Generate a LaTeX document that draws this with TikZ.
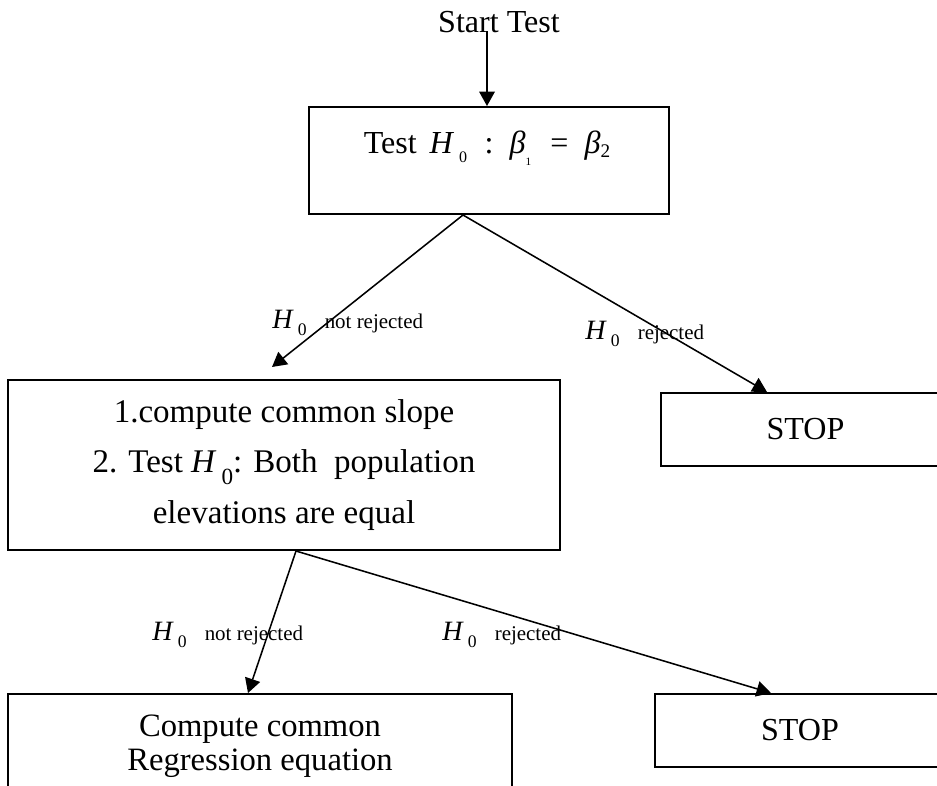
\documentclass[tikz,border=0pt]{standalone}
\usepackage{fontspec}
\setmainfont{Liberation Serif}
\usepackage{graphicx}
\usetikzlibrary{positioning,calc,arrows.meta}

\newcommand{\Hnull}[2]{\textit{H}\kern0.15em\raisebox{#1}{\scalebox{#2}{0}}}
\newcommand{\mainsize}{\fontsize{22.8pt}{28pt}\selectfont}
\newcommand{\slopesize}{\fontsize{23.5pt}{35.6pt}\selectfont}
\newcommand{\commonsize}{\fontsize{23.2pt}{24.2pt}\selectfont}
\newcommand{\labsize}{\fontsize{19.9pt}{24pt}\selectfont}
\newcommand{\tinysize}{\fontsize{14.9pt}{18pt}\selectfont}

\begin{document}
\begin{tikzpicture}[x=0.025cm,y=-0.025cm,
	box/.style={draw, line width=1.4pt, inner sep=0pt, align=center},
	arr/.style={line width=1.1pt, -{Triangle[length=0.36cm,width=0.39cm]}},
	lab/.style={anchor=base west, inner sep=0pt}]
	
	\useasboundingbox (0,0) rectangle (937,785);
	\clip (0,0) rectangle (937,785);
	
	% boxes
	\node[anchor=base, inner sep=0pt, font=\mainsize] (start) at (499,32) {Start Test};
	\node[box, minimum width=9cm, minimum height=2.675cm, text height=0.6cm, text depth=0.975cm, font=\mainsize] (test) at (489,160.5)
	{Test\hspace{0.4em}\Hnull{-0.3em}{0.5}\hspace{0.55em}:\hspace{0.5em}\textit{β}\raisebox{-0.4em}{\scalebox{0.35}{1}}\hspace{0.6em}=\hspace{0.5em}\textit{β}\raisebox{-0.15em}{\scalebox{0.6}{2}}\hspace*{0.1cm}};
	\node[box, minimum width=13.8cm, minimum height=4.25cm, font=\slopesize] (slope) at (284,465)
	{1.compute common slope\\ 2. Test \Hnull{-0.35em}{0.7}: Both~~population\\ elevations are equal};
	\node[box, minimum width=7.225cm, minimum height=1.825cm, font=\mainsize] (stop1) at (805.5,429.5) {STOP};
	\node[box, minimum width=12.6cm, minimum height=2.55cm, text depth=0.1cm, font=\commonsize] (common) at (260,745)
	{Compute common\\ Regression equation};
	\node[box, minimum width=7.25cm, minimum height=1.825cm, font=\mainsize] (stop2) at (800,730.5) {STOP};
	
	% arrows
	\coordinate (s) at (487,31);
	\draw[arr] (s) -- (s |- test.north);
	\draw[arr] ($(test.south)+(-26,0)$) -- ($(slope.north)+(-12,-12)$);
	\draw[arr] ($(test.south)+(-26,0)$) -- ($(stop1.north)+(-38.5,0)$);
	\draw[arr] ($(slope.south)+(12,0)$) -- ($(common.north)+(-12,0)$);
	\draw[arr] ($(slope.south)+(12,0)$) -- ($(stop2.north)+(-29,0)$);
	
	% labels
	\node[lab] (nrej1) at (272,328) {{\labsize\Hnull{-0.28em}{0.63}}\hspace{0.45cm}{\tinysize not rejected}};
	\node[lab] (rej1) at (585,339) {{\labsize\Hnull{-0.28em}{0.63}}\hspace{0.45cm}{\tinysize rejected}};
	\node[lab] (nrej2) at (152,640) {{\labsize\Hnull{-0.28em}{0.63}}\hspace{0.45cm}{\tinysize not rejected}};
	\node[lab] (rej2) at (442,640) {{\labsize\Hnull{-0.28em}{0.63}}\hspace{0.45cm}{\tinysize rejected}};
\end{tikzpicture}
\end{document}
